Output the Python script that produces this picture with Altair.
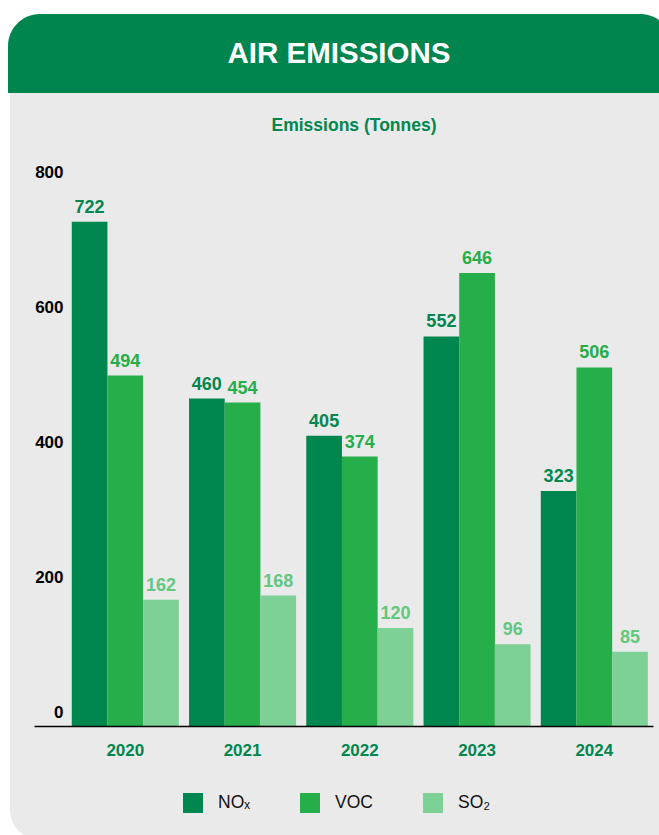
import altair as alt
import pandas as pd

# ---- data ----
years = ["2020", "2021", "2022", "2023", "2024"]
series = ["NOₓ", "VOC", "SO₂"]
nox = [722, 460, 405, 552, 323]
voc = [494, 454, 374, 646, 506]
so2 = [162, 168, 120, 96, 85]
y_ticks = [0, 200, 400, 600, 800]

bar_colors = ["#00874F", "#25AE4A", "#7DD197"]
label_colors = ["#00874F", "#25AE4A", "#62C77F"]

rows = []
for i, yr in enumerate(years):
    for s, vals in zip(series, [nox, voc, so2]):
        rows.append({"year": yr, "series": s, "value": vals[i]})
df = pd.DataFrame(rows)

W, H = 619, 540
FONT = "Liberation Sans"
GREEN = "#00874F"

x_enc = alt.X(
    "year:N", sort=years,
    scale=alt.Scale(paddingInner=0.087, paddingOuter=0.183, align=0.88),
    axis=alt.Axis(title=None, labelAngle=0, domainColor="black", domainWidth=1.5,
                  ticks=False, tickSize=0, labelPadding=16, offset=17, zindex=1,
                  labelFont=FONT, labelFontSize=17, labelFontWeight="bold",
                  labelColor=GREEN, grid=False),
)
xoff = alt.XOffset("series:N", sort=series, scale=alt.Scale(paddingInner=0, paddingOuter=0))
y_enc = alt.Y(
    "value:Q", stack=None, scale=alt.Scale(domain=[0, 800], nice=False),
    axis=alt.Axis(title=None, values=y_ticks, grid=False, domain=False, ticks=False,
                  tickSize=0, labelPadding=0, offset=-29, zindex=1, labelFont=FONT,
                  labelFontSize=17, labelFontWeight="bold", labelColor="black",
                  labelBaseline="middle", labelOffset=3),
)

base = alt.Chart(df)

bars = base.mark_bar().encode(
    x=x_enc, xOffset=xoff, y=y_enc, y2=alt.value(H + 17),
    color=alt.Color("series:N", sort=series,
                    scale=alt.Scale(domain=series, range=bar_colors),
                    legend=alt.Legend(orient="none", legendX=149, legendY=624,
                                      direction="horizontal", title=None,
                                      symbolType="square", symbolSize=400,
                                      symbolStrokeWidth=0, labelFont=FONT,
                                      labelFontSize=17.5, labelColor="#111111",
                                      labelOffset=15, columnPadding=50, padding=0)),
)

labels = base.mark_text(font=FONT, fontSize=18, fontWeight="bold",
                        baseline="alphabetic", dy=-9).encode(
    x=alt.X("year:N", sort=years), xOffset=alt.XOffset("series:N", sort=series),
    y=alt.Y("value:Q", stack=None),
    text=alt.Text("value:Q"),
    color=alt.Color("series:N", sort=series,
                    scale=alt.Scale(domain=series, range=label_colors), legend=None),
)

deco = pd.DataFrame({"k": [0]})
card = alt.Chart(deco).mark_rect(color="#EAEAEA", cornerRadius=30).encode(
    x=alt.value(-24), x2=alt.value(638), y=alt.value(-155), y2=alt.value(671))
header = alt.Chart(deco).mark_rect(color="#00854F", cornerRadiusTopLeft=32,
                                   cornerRadiusTopRight=32).encode(
    x=alt.value(-26), x2=alt.value(638), y=alt.value(-155), y2=alt.value(-76))
title = alt.Chart(deco).mark_text(text="AIR EMISSIONS", font=FONT, fontSize=29.5,
                                  fontWeight="bold", color="white", align="center",
                                  baseline="alphabetic").encode(
    x=alt.value(305), y=alt.value(-106))
subtitle = alt.Chart(deco).mark_text(text="Emissions (Tonnes)", font=FONT, fontSize=17.5,
                                     fontWeight="bold", color=GREEN, align="center",
                                     baseline="alphabetic").encode(
    x=alt.value(320), y=alt.value(-38))

chart = alt.layer(card, header, title, subtitle, bars, labels).resolve_scale(
    color="independent"
).properties(
    width=W, height=H,
    autosize=alt.AutoSizeParams(type="none"),
    padding={"left": 34, "top": 169, "right": 6, "bottom": 126},
    background="white",
).configure_view(stroke=None)

chart.save("out.html", embed_options={"renderer": "svg", "actions": False})
